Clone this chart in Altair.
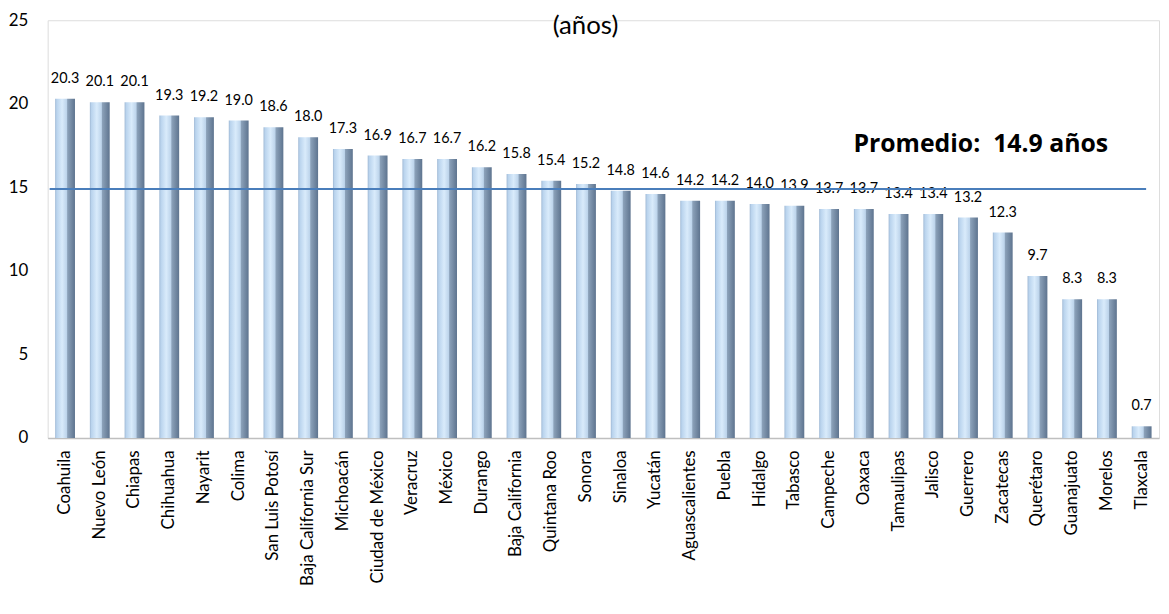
import altair as alt
import pandas as pd

estados = ["Coahuila", "Nuevo León", "Chiapas", "Chihuahua", "Nayarit", "Colima",
           "San Luis Potosí", "Baja California Sur", "Michoacán", "Ciudad de México",
           "Veracruz", "México", "Durango", "Baja California", "Quintana Roo", "Sonora",
           "Sinaloa", "Yucatán", "Aguascalientes", "Puebla", "Hidalgo", "Tabasco",
           "Campeche", "Oaxaca", "Tamaulipas", "Jalisco", "Guerrero", "Zacatecas",
           "Querétaro", "Guanajuato", "Morelos", "Tlaxcala"]
valores = [20.3, 20.1, 20.1, 19.3, 19.2, 19.0, 18.6, 18.0, 17.3, 16.9, 16.7, 16.7,
           16.2, 15.8, 15.4, 15.2, 14.8, 14.6, 14.2, 14.2, 14.0, 13.9, 13.7, 13.7,
           13.4, 13.4, 13.2, 12.3, 9.7, 8.3, 8.3, 0.7]
promedio = 14.9
y_ticks = [0, 5, 10, 15, 20, 25]

df = pd.DataFrame({"estado": estados, "valor": valores})
one = pd.DataFrame({"k": [0]})

FONT = "Lato"

x_enc = alt.X("estado:N", sort=estados, title=None,
              scale=alt.Scale(paddingInner=0.4, paddingOuter=0.2),
              axis=alt.Axis(labelAngle=-90, labelFontSize=17, labelColor="#000000",
                            labelFont=FONT, ticks=False, domainColor="#bfbfbf",
                            domainWidth=1.5, labelPadding=12, labelLimit=300))
y_enc = alt.Y("valor:Q", title=None,
              scale=alt.Scale(domain=[0, 25], nice=False),
              axis=alt.Axis(values=y_ticks, grid=False, domain=False, ticks=False,
                            labelFontSize=17, labelColor="#000000", labelFont=FONT,
                            labelPadding=20))

grad = alt.Gradient(
    gradient="linear", x1=0, x2=1, y1=0, y2=0,
    stops=[alt.GradientStop(color="#9fb8d4", offset=0),
           alt.GradientStop(color="#b9d3ed", offset=0.08),
           alt.GradientStop(color="#d9ebfb", offset=0.35),
           alt.GradientStop(color="#bdd4eb", offset=0.58),
           alt.GradientStop(color="#8ba1b9", offset=0.63),
           alt.GradientStop(color="#5e748f", offset=1)])

bars = alt.Chart(df).mark_bar(color=grad, size=20).encode(x=x_enc, y=y_enc)

labels = alt.Chart(df).mark_text(baseline="bottom", dy=-13, fontSize=14.5,
                                  font=FONT, color="#000000").encode(
    x=alt.X("estado:N", sort=estados),
    y="valor:Q",
    text=alt.Text("valor:Q", format=".1f"))

rule = alt.Chart(one).mark_rule(color="#4a7ebb", strokeWidth=2).encode(
    y=alt.datum(promedio), x=alt.value(2), x2=alt.value(1107))

prom_text = alt.Chart(one).mark_text(align="left", baseline="middle", fontSize=25,
                                      fontWeight="bold", font="Open Sans", color="#000000").encode(
    y=alt.datum(17.6), x=alt.value(812),
    text=alt.value("Promedio:\u00a0 14.9 años"))

title_text = alt.Chart(one).mark_text(align="center", baseline="alphabetic", fontSize=26,
                                       font=FONT, color="#000000").encode(
    y=alt.value(14), x=alt.value(542),
    text=alt.value("(años)"))

chart = alt.layer(bars, labels, rule, prom_text, title_text).properties(
    width=1120, height=421,
    autosize=alt.AutoSizeParams(type="none"),
    padding={"left": 40, "top": 10, "right": 2, "bottom": 170},
).configure_view(stroke=None).configure(background="white")

chart.save("out.html", embed_options={"renderer": "svg", "actions": False})
